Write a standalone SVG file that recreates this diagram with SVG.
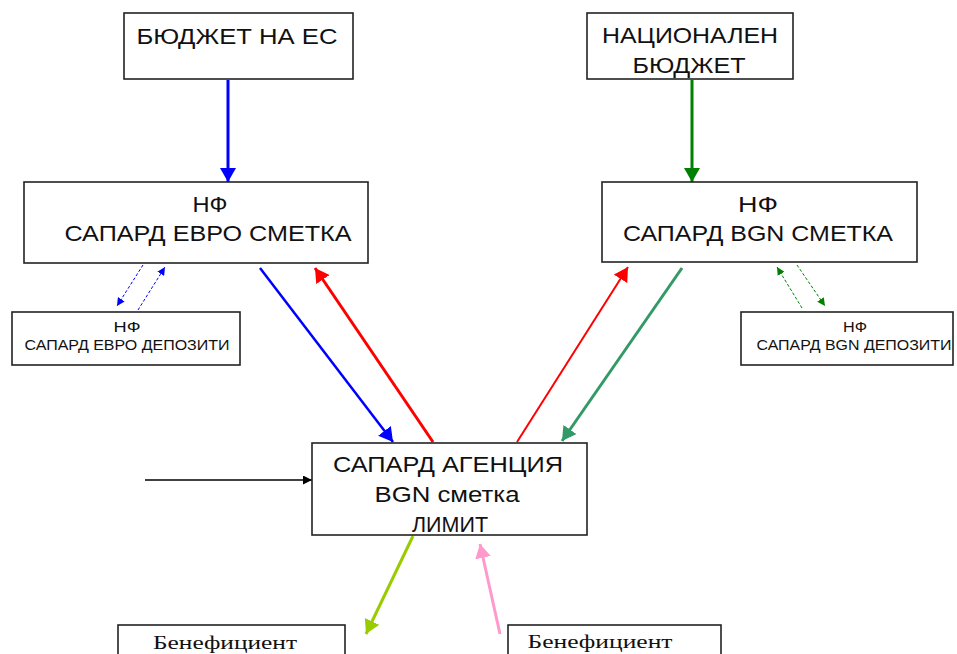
<svg xmlns="http://www.w3.org/2000/svg" width="957" height="654" viewBox="0 0 957 654">
<style>
.box{fill:#fff;stroke:#222;stroke-width:1.6}
.t{font-family:"Liberation Sans",Arial,sans-serif;fill:#111;text-anchor:middle}
.s{font-family:"Liberation Serif","Times New Roman",serif;fill:#111;text-anchor:middle}
.c{fill:none}
</style>
<defs>
<marker id="mBlue" viewBox="0 0 14 16" refX="14" refY="8" markerWidth="14" markerHeight="16" markerUnits="userSpaceOnUse" orient="auto"><path d="M0,0L14,8L0,16z" fill="#0000ff"/></marker>
<marker id="mRed" viewBox="0 0 14 16" refX="14" refY="8" markerWidth="14" markerHeight="16" markerUnits="userSpaceOnUse" orient="auto"><path d="M0,0L14,8L0,16z" fill="#ff0000"/></marker>
<marker id="mGreen" viewBox="0 0 14 16" refX="14" refY="8" markerWidth="14" markerHeight="16" markerUnits="userSpaceOnUse" orient="auto"><path d="M0,0L14,8L0,16z" fill="#008000"/></marker>
<marker id="mTeal" viewBox="0 0 14 16" refX="14" refY="8" markerWidth="14" markerHeight="16" markerUnits="userSpaceOnUse" orient="auto"><path d="M0,0L14,8L0,16z" fill="#339966"/></marker>
<marker id="mLime" viewBox="0 0 14 16" refX="14" refY="8" markerWidth="14" markerHeight="16" markerUnits="userSpaceOnUse" orient="auto"><path d="M0,0L14,8L0,16z" fill="#99cc00"/></marker>
<marker id="mPink" viewBox="0 0 14 16" refX="14" refY="8" markerWidth="14" markerHeight="16" markerUnits="userSpaceOnUse" orient="auto"><path d="M0,0L14,8L0,16z" fill="#ff99cc"/></marker>
<marker id="mBlack" viewBox="0 0 12 12" refX="12" refY="6" markerWidth="10" markerHeight="9" markerUnits="userSpaceOnUse" orient="auto"><path d="M0,0L12,6L0,12z" fill="#000"/></marker>
<marker id="mBlueS" viewBox="0 0 12 12" refX="12" refY="6" markerWidth="8" markerHeight="8" markerUnits="userSpaceOnUse" orient="auto"><path d="M0,0L12,6L0,12z" fill="#0000ff"/></marker>
<marker id="mGreenS" viewBox="0 0 12 12" refX="12" refY="6" markerWidth="8" markerHeight="8" markerUnits="userSpaceOnUse" orient="auto"><path d="M0,0L12,6L0,12z" fill="#008000"/></marker>
</defs>
<rect width="957" height="654" fill="#fff"/>

<g id="connectors" class="c">
<line x1="228" y1="80" x2="228" y2="182" stroke="#0000ff" stroke-width="3" marker-end="url(#mBlue)"/>
<line x1="692" y1="80" x2="692" y2="182" stroke="#008000" stroke-width="3" marker-end="url(#mGreen)"/>
<line x1="260" y1="268" x2="393" y2="442" stroke="#0000ff" stroke-width="2.5" marker-end="url(#mBlue)"/>
<line x1="433" y1="442" x2="315" y2="268" stroke="#ff0000" stroke-width="3" marker-end="url(#mRed)"/>
<line x1="517" y1="442" x2="628" y2="267" stroke="#ff0000" stroke-width="2" marker-end="url(#mRed)"/>
<line x1="682" y1="268" x2="562" y2="441" stroke="#339966" stroke-width="3" marker-end="url(#mTeal)"/>
<line x1="145" y1="480" x2="312" y2="480" stroke="#000" stroke-width="1.3" marker-end="url(#mBlack)"/>
<line x1="413" y1="536" x2="366" y2="634" stroke="#99cc00" stroke-width="3" marker-end="url(#mLime)"/>
<line x1="500" y1="634" x2="480" y2="544" stroke="#ff99cc" stroke-width="3" marker-end="url(#mPink)"/>
<line x1="143" y1="265" x2="117" y2="306" stroke="#0000ff" stroke-width="1" stroke-dasharray="3,2" marker-end="url(#mBlueS)"/>
<line x1="138" y1="310" x2="165" y2="267" stroke="#0000ff" stroke-width="1" stroke-dasharray="3,2" marker-end="url(#mBlueS)"/>
<line x1="802" y1="308" x2="777" y2="267" stroke="#008000" stroke-width="1" stroke-dasharray="3,2" marker-end="url(#mGreenS)"/>
<line x1="797" y1="265" x2="825" y2="306" stroke="#008000" stroke-width="1" stroke-dasharray="3,2" marker-end="url(#mGreenS)"/>
</g>

<g id="eu-budget">
<rect class="box" x="124" y="13" width="229" height="66"/>
<text class="t" x="237" y="44" font-size="22" textLength="201" lengthAdjust="spacingAndGlyphs">БЮДЖЕТ НА ЕС</text>
</g>

<g id="national-budget">
<rect class="box" x="587" y="13" width="206" height="66"/>
<text class="t" x="690" y="43" font-size="22" textLength="176" lengthAdjust="spacingAndGlyphs">НАЦИОНАЛЕН</text>
<text class="t" x="689" y="73" font-size="22" textLength="113" lengthAdjust="spacingAndGlyphs">БЮДЖЕТ</text>
</g>

<g id="nf-euro">
<rect class="box" x="24" y="182" width="344" height="81"/>
<text class="t" x="210" y="212" font-size="22" textLength="35" lengthAdjust="spacingAndGlyphs">НФ</text>
<text class="t" x="208" y="241" font-size="22" textLength="287" lengthAdjust="spacingAndGlyphs">САПАРД ЕВРО СМЕТКА</text>
</g>

<g id="nf-bgn">
<rect class="box" x="602" y="182" width="315" height="80"/>
<text class="t" x="758" y="212" font-size="22" textLength="40" lengthAdjust="spacingAndGlyphs">НФ</text>
<text class="t" x="758" y="241" font-size="22" textLength="270" lengthAdjust="spacingAndGlyphs">САПАРД BGN СМЕТКА</text>
</g>

<g id="euro-deposits">
<rect class="box" x="12" y="312" width="228" height="53"/>
<text class="t" x="127" y="332" font-size="14" textLength="27" lengthAdjust="spacingAndGlyphs">НФ</text>
<text class="t" x="127" y="350" font-size="14" textLength="205" lengthAdjust="spacingAndGlyphs">САПАРД ЕВРО ДЕПОЗИТИ</text>
</g>

<g id="bgn-deposits">
<rect class="box" x="741" y="312" width="212" height="53"/>
<text class="t" x="855" y="332" font-size="14" textLength="24" lengthAdjust="spacingAndGlyphs">НФ</text>
<text class="t" x="854" y="350" font-size="14" textLength="195" lengthAdjust="spacingAndGlyphs">САПАРД BGN ДЕПОЗИТИ</text>
</g>

<g id="agency">
<rect class="box" x="312" y="443" width="275" height="92"/>
<text class="t" x="448" y="472" font-size="22" textLength="230" lengthAdjust="spacingAndGlyphs">САПАРД АГЕНЦИЯ</text>
<text class="t" x="447" y="502" font-size="22" textLength="145" lengthAdjust="spacingAndGlyphs">BGN сметка</text>
<text class="t" x="450" y="532" font-size="22" textLength="76" lengthAdjust="spacingAndGlyphs">ЛИМИТ</text>
</g>

<g id="beneficiary-left">
<rect class="box" x="118" y="625" width="227" height="40"/>
<text class="s" x="225" y="649" font-size="19" textLength="144" lengthAdjust="spacingAndGlyphs">Бенефициент</text>
</g>

<g id="beneficiary-right">
<rect class="box" x="508" y="625" width="213" height="40"/>
<text class="s" x="600" y="648" font-size="19" textLength="145" lengthAdjust="spacingAndGlyphs">Бенефициент</text>
</g>
</svg>
